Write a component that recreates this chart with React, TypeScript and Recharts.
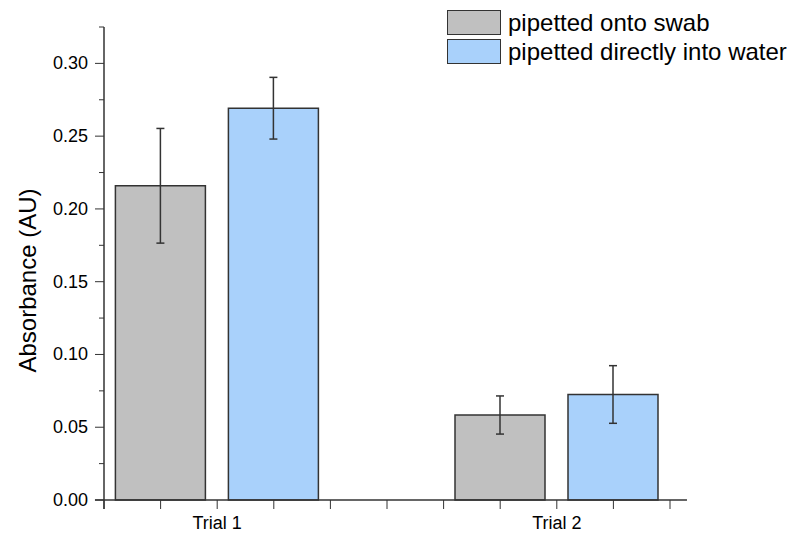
import { BarChart, Bar, XAxis, YAxis, ErrorBar, Legend, ReferenceLine } from 'recharts'

const categories = ['Trial 1', 'Trial 2']
// category centres on the numeric x axis (axis is ticked in sixths of a category step)
const categoryX = [6, 12]
const xTicks = [4, 5, 6, 7, 8, 9, 10, 11, 12, 13, 14]

const swabValues = [0.2159, 0.0584]
const swabErrors = [0.0394, 0.0131]
const waterValues = [0.2692, 0.0725]
const waterErrors = [0.0212, 0.0198]

const yTicks = [0, 0.025, 0.05, 0.075, 0.1, 0.125, 0.15, 0.175, 0.2, 0.225, 0.25, 0.275, 0.3, 0.325]

const SWAB_NAME = 'pipetted onto swab'
const WATER_NAME = 'pipetted directly into water'
const LEGEND_ORDER = [SWAB_NAME, WATER_NAME]
const SWAB_COLOR = '#c0c0c0'
const WATER_COLOR = '#a9d1fb'
const INK = '#333333'
const FONT = '"Liberation Sans", Arial, sans-serif'

const data = categories.map((name, i) => ({
  name,
  x: categoryX[i],
  swab: swabValues[i],
  swabErr: swabErrors[i],
  water: waterValues[i],
  waterErr: waterErrors[i],
}))

// axis lines in Origin run a little past the first / last tick
const X_LINE_FROM = 3.84
const X_LINE_TO = 14.3
const Y_LINE_BELOW = -0.0062

type TickProps = { x?: number; y?: number; index?: number; payload?: { value: number } }

function YTick({ x = 0, y = 0, index = 0, payload }: TickProps) {
  const major = index % 2 === 0
  return (
    <g>
      <line x1={x - (major ? 9 : 5)} x2={x} y1={y} y2={y} stroke={INK} strokeWidth={1} />
      {major && payload ? (
        <text
          x={x - 16}
          y={y}
          textAnchor="end"
          dominantBaseline="central"
          fontFamily={FONT}
          fontSize={18}
          fill="#000"
        >
          {payload.value.toFixed(2)}
        </text>
      ) : null}
    </g>
  )
}

function xLabel(v: number): string {
  const i = categoryX.indexOf(Math.round(v))
  return i >= 0 && Math.abs(v - categoryX[i]) < 1e-6 ? categories[i] : ''
}

function YLabel(props: { viewBox?: { x: number; y: number; width: number; height: number } }) {
  const vb = props.viewBox
  if (!vb) return null
  const cx = vb.x + 27.5
  const cy = vb.y + vb.height / 2 + 17
  return (
    <text
      x={cx}
      y={cy}
      transform={`rotate(-90 ${cx} ${cy})`}
      textAnchor="middle"
      dominantBaseline="central"
      fontFamily={FONT}
      fontSize={24}
      fill="#000"
    >
      Absorbance (AU)
    </text>
  )
}

function LegendBox({ payload }: { payload?: { value: string; color: string }[] }) {
  if (!payload) return null
  const items = LEGEND_ORDER.map((name) => payload.find((p) => p.value === name)).filter(
    (p): p is { value: string; color: string } => Boolean(p),
  )
  return (
    <div style={{ display: 'flex', flexDirection: 'column', gap: 4 }}>
      {items.map((p) => (
        <div key={p.value} style={{ display: 'flex', alignItems: 'center', height: 25 }}>
          <span
            style={{
              width: 54,
              height: 25,
              boxSizing: 'border-box',
              border: `1.5px solid ${INK}`,
              background: p.color,
              flexShrink: 0,
            }}
          />
          <span
            style={{
              marginLeft: 7,
              fontFamily: FONT,
              fontSize: 24,
              color: '#000',
              whiteSpace: 'nowrap',
              lineHeight: '25px',
            }}
          >
            {p.value}
          </span>
        </div>
      ))}
    </div>
  )
}

export default function App() {
  return (
    <div style={{ position: 'absolute', left: 0, top: 0, width: 795, height: 533, background: '#fff' }}>
      <BarChart
        width={795}
        height={533}
        data={data}
        margin={{ top: 27, right: 125, bottom: 0, left: 0 }}
        barSize={90}
        barGap={23}
      >
        <XAxis
          dataKey="x"
          type="number"
          domain={[4, 14]}
          ticks={xTicks}
          interval={0}
          height={33}
          axisLine={false}
          tickSize={9}
          tickMargin={7}
          tickLine={{ stroke: INK, strokeWidth: 1 }}
          tickFormatter={xLabel}
          tick={{ fontFamily: FONT, fontSize: 18, fill: '#000' }}
        />
        <YAxis
          type="number"
          domain={[0, 0.325]}
          ticks={yTicks}
          interval={0}
          width={104}
          axisLine={false}
          tickLine={false}
          tickSize={0}
          tickMargin={0}
          tick={<YTick />}
          label={<YLabel />}
        />
        <Bar
          dataKey="swab"
          name={SWAB_NAME}
          fill={SWAB_COLOR}
          stroke={INK}
          strokeWidth={1.5}
          isAnimationActive={false}
        >
          <ErrorBar dataKey="swabErr" width={4} stroke={INK} strokeWidth={1.5} direction="y" />
        </Bar>
        <Bar
          dataKey="water"
          name={WATER_NAME}
          fill={WATER_COLOR}
          stroke={INK}
          strokeWidth={1.5}
          isAnimationActive={false}
        >
          <ErrorBar dataKey="waterErr" width={4} stroke={INK} strokeWidth={1.5} direction="y" />
        </Bar>
        <ReferenceLine
          segment={[
            { x: X_LINE_FROM, y: 0 },
            { x: X_LINE_TO, y: 0 },
          ]}
          stroke={INK}
          strokeWidth={1.5}
          ifOverflow="visible"
        />
        <ReferenceLine
          segment={[
            { x: 4, y: 0.325 },
            { x: 4, y: Y_LINE_BELOW },
          ]}
          stroke={INK}
          strokeWidth={1.5}
          ifOverflow="visible"
        />
        <Legend
          layout="vertical"
          align="center"
          verticalAlign="middle"
          content={<LegendBox />}
          wrapperStyle={{ top: 10, left: 447, width: 'auto' }}
        />
      </BarChart>
    </div>
  )
}
